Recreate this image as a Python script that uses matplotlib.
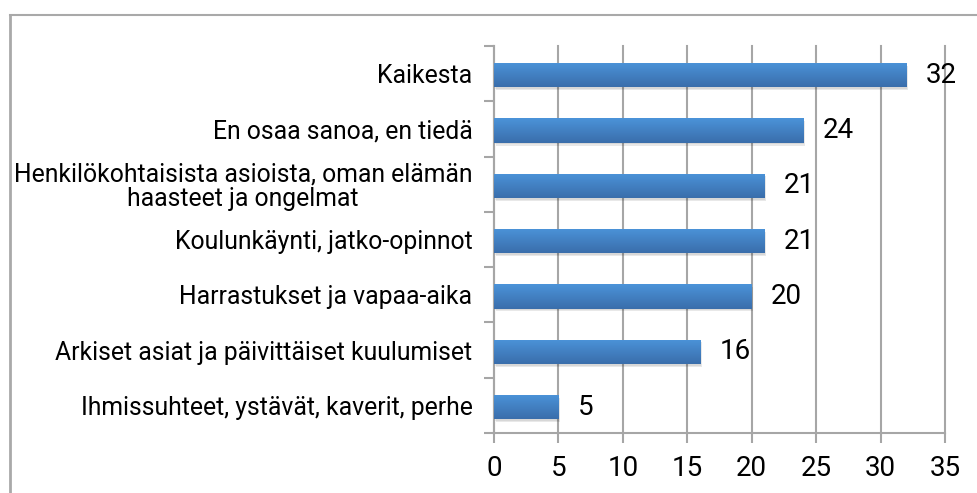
import matplotlib
matplotlib.use("Agg")
import matplotlib.pyplot as plt
import numpy as np
from matplotlib.lines import Line2D
from matplotlib import font_manager

categories = [
    "Ihmissuhteet, ystävät, kaverit, perhe",
    "Arkiset asiat ja päivittäiset kuulumiset",
    "Harrastukset ja vapaa-aika",
    "Koulunkäynti, jatko-opinnot",
    "Henkilökohtaisista asioista, oman elämän\nhaasteet ja ongelmat",
    "En osaa sanoa, en tiedä",
    "Kaikesta",
]
values = [5, 16, 20, 21, 21, 24, 32]
xticks = [0, 5, 10, 15, 20, 25, 30, 35]

names = {f.name for f in font_manager.fontManager.ttflist}
num_font = "Liberation Sans Narrow" if "Liberation Sans Narrow" in names else "Roboto"
lab_font = "Roboto"

W, H = 978, 493
fig = plt.figure(figsize=(W / 100, H / 100), dpi=100)
fig.patch.set_facecolor("white")
ax = fig.add_axes([494 / W, 1 - 433 / H, (945 - 494) / W, (433 - 46) / H])

grid_c = "#a6a6a6"
ax.set_xlim(0, 35)
ax.set_ylim(-0.5, len(categories) - 0.5)
ax.set_xticks(xticks)
ax.set_xticklabels([str(t) for t in xticks], fontsize=20, family=num_font)
ax.tick_params(axis="x", length=7, width=1.5, color=grid_c, pad=8.5, labelcolor="black")
ax.set_yticks(np.arange(len(categories)))
ax.set_yticklabels(categories, fontsize=17.8, linespacing=1.0, family=lab_font)
for t in ax.get_yticklabels():
    t.set_multialignment("center")
ax.tick_params(axis="y", which="major", length=0, pad=15.5)
ax.set_yticks(np.arange(-0.5, len(categories)), minor=True)
ax.tick_params(axis="y", which="minor", length=7, width=1.5, color=grid_c)
ax.xaxis.grid(True, color=grid_c, linewidth=1.5)
for gl in ax.get_xgridlines():
    gl.set_clip_on(False)
ax.set_axisbelow(True)
for s in ["top", "right"]:
    ax.spines[s].set_visible(False)
for s in ["left", "bottom"]:
    ax.spines[s].set_color(grid_c)
    ax.spines[s].set_linewidth(1.5)

bar_h = 0.44
y = np.arange(len(categories)) - 0.03
# shadows
ax.barh(y - 0.05, values, height=bar_h, left=0.12, color="#000000", alpha=0.09, zorder=2, linewidth=0)
ax.barh(y - 0.03, values, height=bar_h, left=0.06, color="#000000", alpha=0.07, zorder=2, linewidth=0)
bars = ax.barh(y, values, height=bar_h, color="#4485c9", zorder=3, linewidth=0)

grad = np.linspace(0, 1, 64).reshape(-1, 1)
top = np.array(matplotlib.colors.to_rgb("#4b93d9"))
bot = np.array(matplotlib.colors.to_rgb("#3a6eab"))
img = top[None, None, :] * (1 - grad[:, :, None]) + bot[None, None, :] * grad[:, :, None]
for b in bars:
    x0, y0 = b.get_x(), b.get_y()
    w, h = b.get_width(), b.get_height()
    im = ax.imshow(img, extent=[x0, x0 + w, y0, y0 + h], origin="upper",
                   aspect="auto", zorder=4, interpolation="bilinear")
    im.set_clip_path(b)

for yi, v in zip(y, values):
    ax.annotate(str(v), (v, yi), xytext=(14, 0), textcoords="offset points",
                va="center", ha="left", fontsize=20, family=num_font, color="black")

ax.set_xlim(0, 35)
ax.set_ylim(-0.5, len(categories) - 0.5)

# outer chart frame
fc = "#a9a9a9"
fig.add_artist(Line2D([9.5 / W, 9.5 / W], [0, 1 - 14.5 / H], color=fc, lw=2, transform=fig.transFigure))
fig.add_artist(Line2D([9.5 / W, 1], [1 - 14.5 / H, 1 - 14.5 / H], color=fc, lw=1.5, transform=fig.transFigure))

fig.savefig("out.png", dpi=100, facecolor="white")
